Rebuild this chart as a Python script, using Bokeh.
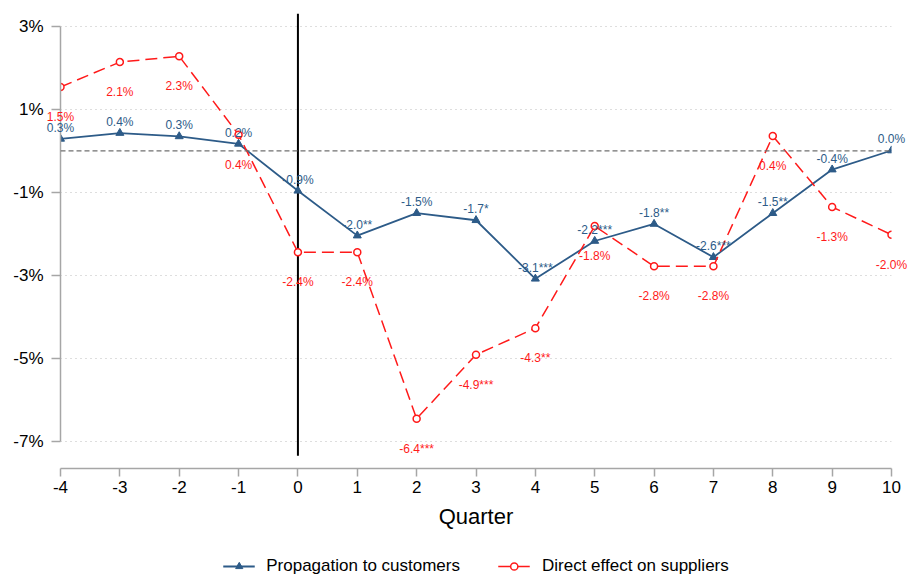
from bokeh.plotting import figure
from bokeh.layouts import column
from bokeh.models import (ColumnDataSource, Span, FixedTicker, Legend,
                          LegendItem, Range1d)
from bokeh.embed import file_html
from bokeh.resources import INLINE
from bokeh.core.properties import value

# ---------------- data ----------------
quarters = [-4, -3, -2, -1, 0, 1, 2, 3, 4, 5, 6, 7, 8, 9, 10]
customers = [0.29, 0.43, 0.35, 0.17, -0.96, -2.04, -1.50, -1.67, -3.08, -2.17,
             -1.76, -2.56, -1.50, -0.45, 0.01]
customer_labels = ["0.3%", "0.4%", "0.3%", "0.2%", "-0.9%", "-2.0**", "-1.5%",
                   "-1.7*", "-3.1***", "-2.2***", "-1.8**", "-2.6***", "-1.5**",
                   "-0.4%", "0.0%"]
suppliers = [1.54, 2.14, 2.28, 0.39, -2.44, -2.44, -6.45, -4.91, -4.27, -1.81,
             -2.78, -2.78, 0.36, -1.35, -2.02]
supplier_labels = ["1.5%", "2.1%", "2.3%", "0.4%", "-2.4%", "-2.4%", "-6.4***",
                   "-4.9***", "-4.3**", "-1.8%", "-2.8%", "-2.8%", "0.4%",
                   "-1.3%", "-2.0%"]
y_ticks = [-7, -5, -3, -1, 1, 3]
y_tick_labels = ["-7%", "-5%", "-3%", "-1%", "1%", "3%"]
x_ticks = quarters
x_tick_labels = ["-4", "-3", "-2", "-1", "0", "1", "2", "3", "4", "5", "6",
                 "7", "8", "9", "10"]
series_names = ["Propagation to customers", "Direct effect on suppliers"]
x_title = "Quarter"
event_quarter = 0

BLUE = "#2d5b88"
RED = "#ff1a1a"
FONT = "Liberation Sans"

src_c = ColumnDataSource(dict(x=quarters, y=customers, lab=customer_labels))
src_s = ColumnDataSource(dict(x=quarters, y=suppliers, lab=supplier_labels))

p = figure(width=907, height=538, output_backend="svg", toolbar_location=None,
           x_range=Range1d(-4, 10), y_range=Range1d(-7.65, 3.31),
           min_border_left=60, min_border_right=16, min_border_top=13,
           min_border_bottom=70)
p.outline_line_color = None
p.background_fill_color = "white"
p.border_fill_color = "white"

# grid
p.xgrid.grid_line_color = None
p.ygrid.ticker = FixedTicker(ticks=y_ticks)
p.ygrid.grid_line_color = "#bdbdbd"
p.ygrid.grid_line_dash = "1 4"
p.ygrid.grid_line_width = 1.2

# axes
p.yaxis.ticker = FixedTicker(ticks=y_ticks)
p.yaxis.major_label_overrides = {t: l for t, l in zip(y_ticks, y_tick_labels)}
p.yaxis.bounds = (-7, 3)
p.xaxis.ticker = FixedTicker(ticks=x_ticks)
p.xaxis.major_label_overrides = {t: l for t, l in zip(x_ticks, x_tick_labels)}
p.xaxis.bounds = (-4, 10)
for ax in (p.xaxis, p.yaxis):
    ax.axis_line_color = "#a6a6a6"
    ax.axis_line_width = 1.5
    ax.major_tick_line_color = "#a6a6a6"
    ax.major_tick_line_width = 1.5
    ax.minor_tick_line_color = None
    ax.major_tick_in = 0
    ax.major_label_text_font = FONT
    ax.major_label_text_color = "black"
    ax.major_label_text_font_size = "17px"
p.yaxis.major_tick_out = 9
p.yaxis.major_label_standoff = 8
p.xaxis.major_tick_out = 8
p.xaxis.major_label_standoff = 4
p.xaxis.axis_label = x_title
p.xaxis.axis_label_text_font = FONT
p.xaxis.axis_label_text_font_style = "normal"
p.xaxis.axis_label_text_font_size = "22px"
p.xaxis.axis_label_text_color = "black"
p.xaxis.axis_label_standoff = 8

# reference lines
p.add_layout(Span(location=0, dimension="width", line_color="#707070",
                  line_dash="5 3", line_width=1.3))
p.segment(x0=[event_quarter], x1=[event_quarter], y0=[-7.34], y1=[3.31],
          line_color="black", line_width=2)

# series
p.line("x", "y", source=src_c, line_color=BLUE, line_width=1.8)
p.scatter("x", "y", source=src_c, marker="triangle", size=8,
          fill_color=BLUE, line_color=BLUE)
p.line("x", "y", source=src_s, line_color=RED, line_width=1.5,
       line_dash="12 6")
p.scatter("x", "y", source=src_s, marker="circle", size=7,
          fill_color="white", line_color=RED, line_width=1.5)

# value labels as text glyphs at overlay level (not clipped at frame edge)
p.text("x", "y", text="lab", source=src_c, y_offset=-11, text_align="center",
       text_baseline="middle", text_font=value(FONT), text_font_size="12px",
       text_color=BLUE, level="overlay")
p.text("x", "y", text="lab", source=src_s, y_offset=30, text_align="center",
       text_baseline="middle", text_font=value(FONT), text_font_size="12px",
       text_color=RED, level="overlay")

# legend in its own strip below the chart (same data, kept out of view)
lg = figure(width=907, height=40, output_backend="svg", toolbar_location=None,
            x_range=Range1d(100, 101), y_range=Range1d(100, 101),
            min_border_left=0, min_border_right=0, min_border_top=0,
            min_border_bottom=0)
lg.axis.visible = False
lg.grid.visible = False
lg.outline_line_color = None
r1 = lg.line("x", "y", source=src_c, line_color=BLUE, line_width=1.8)
s1 = lg.scatter("x", "y", source=src_c, marker="triangle", size=8,
                fill_color=BLUE, line_color=BLUE)
r2 = lg.line("x", "y", source=src_s, line_color=RED, line_width=1.5)
s2 = lg.scatter("x", "y", source=src_s, marker="circle", size=7,
                fill_color="white", line_color=RED, line_width=1.5)
legend = Legend(items=[LegendItem(label=series_names[0], renderers=[r1, s1]),
                       LegendItem(label=series_names[1], renderers=[r2, s2])],
                orientation="horizontal", location="bottom_center",
                label_text_font=FONT, label_text_font_size="17px",
                label_text_color="black", glyph_width=32, glyph_height=18,
                label_standoff=12, spacing=38, padding=0, margin=2,
                border_line_color=None, background_fill_alpha=0)
lg.add_layout(legend)

layout = column(p, lg, spacing=0)
open("out.html", "w").write(file_html(layout, INLINE))
